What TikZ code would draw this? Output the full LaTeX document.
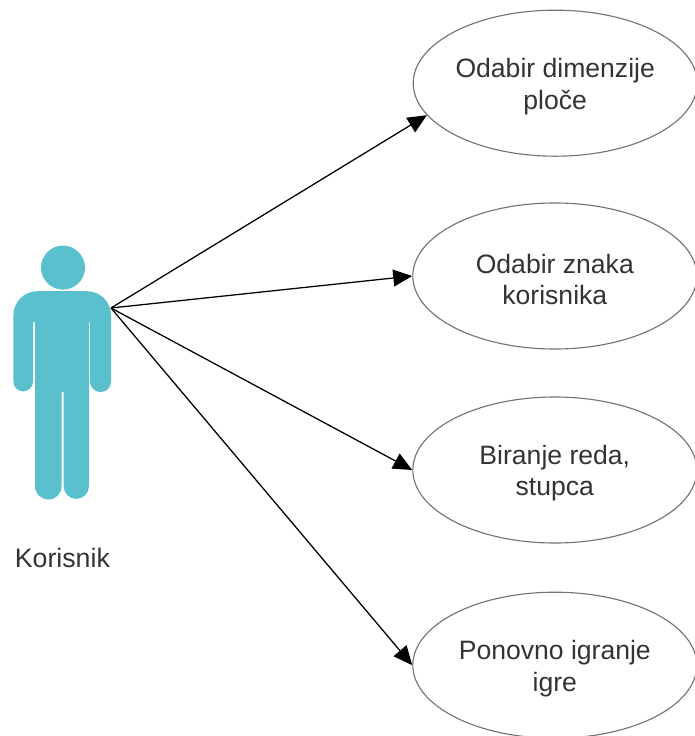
\documentclass[tikz,border=0pt]{standalone}
\usepackage{fontspec}
\setmainfont{Liberation Sans}
\usepackage{xcolor}
\usetikzlibrary{
    arrows.meta,
    shapes.geometric,
    positioning
}
\definecolor{actorblue}{HTML}{5AC0CE}
\definecolor{labelgrey}{HTML}{333333}
\newcommand{\firstline}{\rule{0pt}{18.5pt}}
\tikzset{
    usecase/.style={draw=black!55, line width=0.8pt, ellipse, minimum width=7.1cm, minimum height=3.65cm,
        inner sep=0pt, align=center, text=labelgrey, font=\fontsize{18.9}{22.2}\selectfont},
    actorlabel/.style={text=labelgrey, inner sep=0pt, font=\fontsize{19}{22.2}\selectfont},
    assoc/.style={draw=black, line width=0.9pt, -{Triangle[length=13.5pt, width=12pt]}}
}

\begin{document}
\begin{tikzpicture}
    \useasboundingbox (0, 0) rectangle (17.35, -18.4);
    % actor
    \fill[actorblue] (1.575, -6.69) circle (0.55);
    \fill[actorblue]
    (0.335, -7.88) arc[start angle=180, end angle=90, radius=0.6] -- (2.175, -7.28)
    arc[start angle=90, end angle=0, radius=0.6] -- (2.775, -9.54)
    arc[start angle=0, end angle=-180, radius=0.2625] -- (2.25, -8.05)
    -- (2.225, -8.05) -- (2.225, -12.155)
    arc[start angle=0, end angle=-180, radius=0.3175]
    -- (1.59, -9.8) -- (1.54, -9.8) -- (1.54, -12.155)
    arc[start angle=0, end angle=-180, radius=0.3325] -- (0.875, -8.05)
    -- (0.825, -8.05) -- (0.825, -9.54)
    arc[start angle=0, end angle=-180, radius=0.245] -- cycle;
    \coordinate (hand) at (2.775, -7.7);
    \node[actorlabel] (korisnik) at (1.56, -13.95) {Korisnik};
    % use cases
    \node[usecase] (dimenzija) at (13.88, -2.08) {\firstline Odabir dimenzije\\ploče};
    \node[usecase] (znak) at (13.87, -6.9) {\firstline Odabir znaka\\korisnika};
    \node[usecase] (biranje) at (13.87, -11.75) {\firstline Biranje reda,\\stupca};
    \node[usecase] (ponovno) at (13.87, -16.63) {\firstline Ponovno igranje\\igre};
    % connectors
    \draw[assoc] (hand) -- (dimenzija.194);
    \draw[assoc] (hand) -- (znak.west);
    \draw[assoc] (hand) -- (biranje.west);
    \draw[assoc] (hand) -- (ponovno.west);
\end{tikzpicture}
\end{document}
